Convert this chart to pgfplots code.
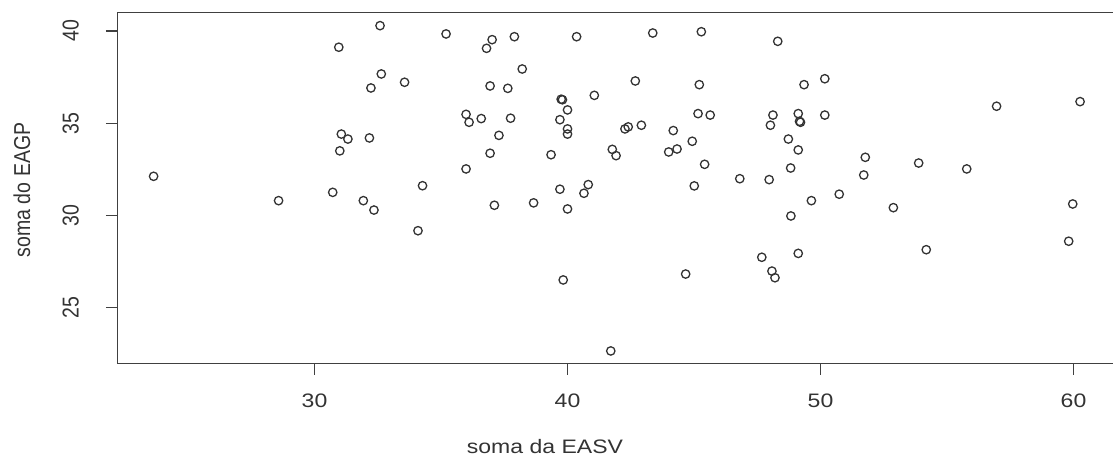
\documentclass[border=0pt]{standalone}
\usepackage{pgfplots}
\pgfplotsset{compat=1.18}
\usepackage{fontspec}
\setmainfont{Liberation Sans}
\begin{document}
\fontsize{19.5}{22}\selectfont
\begin{tikzpicture}
\begin{axis}[
  at={(117.3pt,93.7pt)}, anchor=south west,
  scale only axis, width=999.2pt, height=351pt,
  xmin=22.205, xmax=61.70, ymin=21.98, ymax=41.014,
  axis line style={black!75, line width=1.3pt},
  xtick={30,40,50,60}, ytick={25,30,35,40},
  xtick pos=bottom, ytick pos=left,
  tick align=outside, major tick length=11.5pt,
  tick style={black!75, line width=1.2pt},
  /pgf/number format/assume math mode=true,
  tick label style={font=\fontsize{19.5}{22}\selectfont, text=black!80},
  xticklabel style={anchor=north, yshift=-12pt, xscale=1.18},
  yticklabel style={xshift=-19pt, xscale=1.18, rotate=90, anchor=south},
  xlabel={soma da EASV}, ylabel={soma do EAGP},
  every axis x label/.style={at={(axis description cs:0.428,-0.2385)}, anchor=center, xscale=1.18, font=\fontsize{19.5}{22}\selectfont, text=black!80},
  every axis y label/.style={at={(axis description cs:-0.0954,0.494)}, anchor=center, xscale=1.18, rotate=90, font=\fontsize{19.5}{22}\selectfont, text=black!80},
  clip=false,
]
\addplot[only marks, mark=o, mark size=4.2pt, black!80, line width=1.3pt] coordinates {
(23.64,32.12) (28.58,30.80) (30.72,31.25) (30.96,39.12) (31.00,33.50)
(31.06,34.41) (31.32,34.14) (31.93,30.80) (32.17,34.20) (32.23,36.91)
(32.35,30.29) (32.59,40.29) (32.64,37.67) (33.56,37.22) (34.09,29.17)
(34.27,31.61) (35.20,39.84) (35.99,35.48) (35.99,32.52) (36.11,35.05)
(36.59,35.25) (36.80,39.06) (36.94,37.02) (36.94,33.37) (37.02,39.53)
(37.11,30.55) (37.29,34.34) (37.64,36.89) (37.75,35.27) (37.90,39.69)
(38.21,37.94) (38.66,30.68) (39.35,33.29) (39.70,35.19) (39.70,31.42)
(39.75,36.30) (39.80,36.27) (39.83,26.50) (40.00,35.72) (40.00,34.69)
(40.00,34.41) (40.00,30.35) (40.36,39.69) (40.65,31.20) (40.82,31.67)
(41.06,36.51) (41.71,22.65) (41.77,33.58) (41.92,33.24) (42.27,34.69)
(42.40,34.80) (42.68,37.29) (42.92,34.89) (43.37,39.89) (44.00,33.44)
(44.18,34.60) (44.33,33.60) (44.67,26.82) (44.93,34.02) (45.01,31.60)
(45.16,35.52) (45.21,37.09) (45.29,39.96) (45.42,32.77) (45.64,35.44)
(46.81,31.99) (47.68,27.73) (47.97,31.94) (48.02,34.89) (48.08,26.98)
(48.12,35.44) (48.20,26.62) (48.31,39.44) (48.73,34.14) (48.82,32.57)
(48.83,29.97) (49.12,35.52) (49.12,33.55) (49.12,27.94) (49.17,35.10)
(49.21,35.05) (49.35,37.09) (49.64,30.80) (50.17,37.41) (50.17,35.44)
(50.74,31.15) (51.71,32.19) (51.77,33.15) (52.88,30.42) (53.88,32.84)
(54.18,28.14) (55.78,32.52) (56.96,35.92) (59.81,28.60) (59.97,30.62)
(60.26,36.17)
};
\end{axis}
\pgfresetboundingbox
\path[use as bounding box] (0,0) rectangle (1113pt,457pt);
\end{tikzpicture}
\end{document}
